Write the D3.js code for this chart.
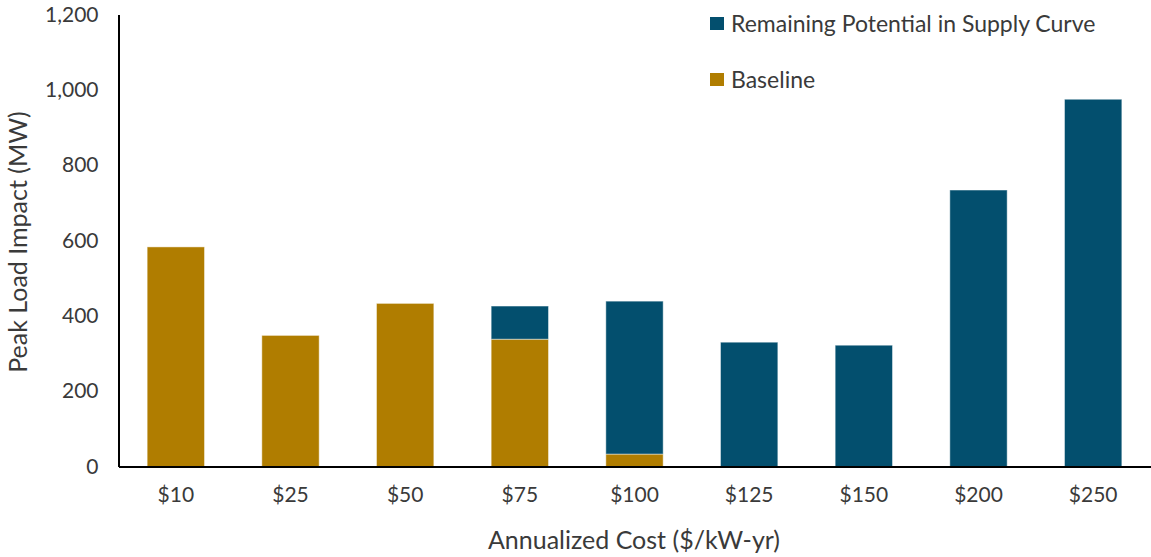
<!DOCTYPE html>
<html>
<head>
<meta charset="utf-8">
<script src="https://cdn.jsdelivr.net/npm/d3@7"></script>
<style>
  html, body { margin: 0; padding: 0; background: #fff; }
  svg { display: block; font-family: Lato, "Open Sans", sans-serif; }
</style>
</head>
<body>
<svg id="chart" width="1151" height="557"></svg>
<script>
// Annualized cost bins and peak load impact (MW) per bin
const categories = ["$10", "$25", "$50", "$75", "$100", "$125", "$150", "$200", "$250"];
const baseline = [583, 348, 433, 338, 33, 0, 0, 0, 0];
const remaining = [0, 0, 0, 88, 406, 330, 322, 734, 975];
const yTicks = [0, 200, 400, 600, 800, 1000, 1200];

const seriesNames = ["Baseline", "Remaining Potential in Supply Curve"];
const seriesColors = ["#B07D00", "#034F6E"];

const svg = d3.select("#chart");
const margin = { left: 118.5, right: 0.5, top: 14.5, bottom: 90.5 };
const W = 1151, H = 557;

const x = d3.scaleBand()
  .domain(categories)
  .range([margin.left, W - margin.right])
  .paddingInner(0.5)
  .paddingOuter(0.25);

const y = d3.scaleLinear()
  .domain([0, 1200])
  .range([H - margin.bottom, margin.top]);

// stacked table built from the two series
const rows = categories.map((c, i) => ({ cat: c, Baseline: baseline[i], "Remaining Potential in Supply Curve": remaining[i] }));
const stacked = d3.stack().keys(seriesNames)(rows);

svg.append("g")
  .selectAll("g")
  .data(stacked)
  .join("g")
  .attr("fill", (d, i) => seriesColors[i])
  .selectAll("rect")
  .data(d => d.filter(p => p[1] - p[0] > 0))
  .join("rect")
  .attr("x", d => x(d.data.cat))
  .attr("width", x.bandwidth())
  .attr("y", d => y(d[1]))
  .attr("height", d => y(d[0]) - y(d[1]))
  .attr("stroke", "rgba(255,255,255,0.45)")
  .attr("stroke-width", 1);

// y axis
const yAxis = svg.append("g")
  .attr("transform", `translate(${margin.left},0)`)
  .call(d3.axisLeft(y).tickValues(yTicks).tickFormat(d3.format(",")).tickSize(0).tickPadding(20));
yAxis.select(".domain").attr("stroke", "#000").attr("stroke-width", 2);
yAxis.selectAll("text").attr("font-size", 21).attr("fill", "#3a3a3a").attr("font-family", "Lato, sans-serif");

// x axis
const xAxis = svg.append("g")
  .attr("transform", `translate(0,${y(0)})`)
  .call(d3.axisBottom(x).tickSize(0).tickPadding(21));
xAxis.select(".domain").attr("stroke", "#000").attr("stroke-width", 2);
xAxis.selectAll("text").attr("font-size", 21).attr("fill", "#3a3a3a").attr("font-family", "Lato, sans-serif");

// axis titles
svg.append("text")
  .attr("x", 634).attr("y", 549)
  .attr("text-anchor", "middle")
  .attr("font-size", 25).attr("fill", "#3a3a3a")
  .text("Annualized Cost ($/kW-yr)");

svg.append("text")
  .attr("transform", "translate(27,242) rotate(-90)")
  .attr("text-anchor", "middle")
  .attr("font-size", 25).attr("fill", "#3a3a3a")
  .text("Peak Load Impact (MW)");

// legend
const legendItems = [
  { name: seriesNames[1], color: seriesColors[1] },
  { name: seriesNames[0], color: seriesColors[0] }
];
const legend = svg.append("g").attr("transform", "translate(710,17)");
legendItems.forEach((item, i) => {
  const g = legend.append("g").attr("transform", `translate(0,${i * 56})`);
  g.append("rect").attr("width", 14).attr("height", 13).attr("fill", item.color);
  g.append("text").attr("x", 21).attr("y", 14.5)
    .attr("font-size", 23).attr("fill", "#3a3a3a")
    .text(item.name);
});
</script>
</body>
</html>
